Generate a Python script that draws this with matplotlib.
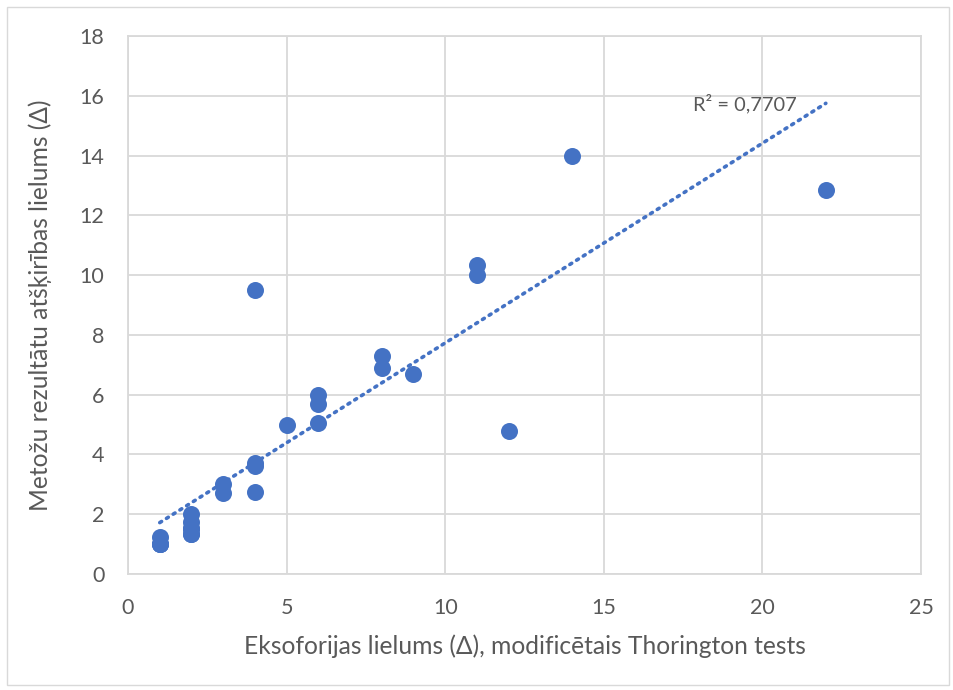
import matplotlib.pyplot as plt
import numpy as np
from matplotlib.patches import Rectangle

# Thorington test exophoria vs. difference between methods
# (some points overlap exactly, e.g. several at (1, 1) and (2, 1.35-1.5))
x_vals = [1, 1, 1, 1, 2, 2, 2, 2, 2, 2, 3, 3, 4, 4, 4, 4, 5, 6, 6, 6,
          8, 8, 9, 11, 11, 12, 14, 22]
y_vals = [1.0, 1.0, 1.0, 1.25, 2.0, 1.75, 1.55, 1.5, 1.35, 1.35, 3.0, 2.7,
          3.7, 3.6, 2.75, 9.5, 5.0, 6.0, 5.7, 5.05, 7.3, 6.9, 6.7,
          10.35, 10.0, 4.8, 14.0, 12.85]
r2_label = "R² = 0,7707"

blue = "#4472C4"
grid = "#D9D9D9"
txt = "#595959"

plt.rcParams['font.family'] = ['Lato', 'DejaVu Sans']

fig = plt.figure(figsize=(9.54, 6.90), dpi=100)
ax = fig.add_axes([0.1342, 0.1681, 0.8312, 0.7797])

ax.scatter(x_vals, y_vals, s=150, color=blue, zorder=3, linewidths=0)

# linear trendline
k, b = np.polyfit(x_vals, y_vals, 1)
xt = np.array([min(x_vals), max(x_vals)])
ax.plot(xt, k * xt + b, color=blue, lw=2.6, linestyle=(0, (0.6, 1.6)),
        dash_capstyle='round', zorder=2)
ax.text(17.8, 15.75, r2_label, fontsize=14.4, color=txt, va='center', ha='left')

ax.set_xlim(0, 25)
ax.set_ylim(0, 18)
ax.set_xticks(range(0, 26, 5))
ax.set_yticks(range(0, 19, 2))
ax.grid(True, color=grid, lw=1.3, zorder=0)
for s in ax.spines.values():
    s.set_color(grid)
    s.set_linewidth(1.3)
ax.tick_params(length=0, labelsize=15.5, colors=txt, pad=17)

ax.set_xlabel("Eksoforijas lielums (Δ), modificētais Thorington tests",
              fontsize=17.7, color=txt, labelpad=12)
ax.set_ylabel("Metožu rezultātu atšķirības lielums (Δ)",
              fontsize=17.7, color=txt, labelpad=20)

fig.patches.append(Rectangle((7 / 954, 5 / 690), 942 / 954, 678 / 690,
                             transform=fig.transFigure, fill=False,
                             edgecolor=grid, lw=1))

fig.savefig("out.png", dpi=100)
